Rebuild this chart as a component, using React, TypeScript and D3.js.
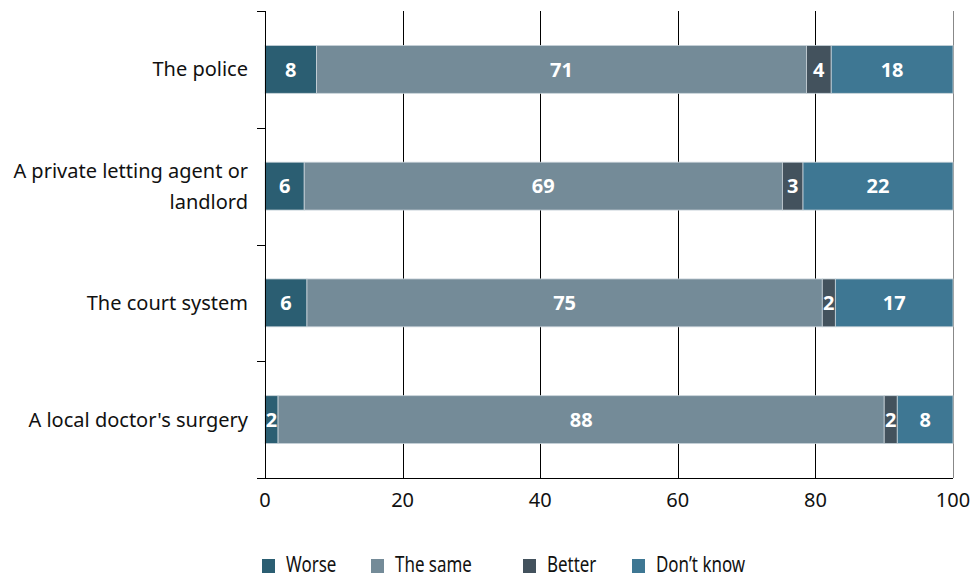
import { FC, useEffect, useRef } from 'react';
import * as d3 from 'd3';

const categories = [
  ['The police'],
  ['A private letting agent or', 'landlord'],
  ['The court system'],
  ["A local doctor's surgery"],
];
const seriesNames = ['Worse', 'The same', 'Better', 'Don\u2019t know'];
const worse = [7.5, 5.7, 6.1, 1.9];
const theSame = [71.2, 69.5, 74.9, 88.1];
const better = [3.6, 3.0, 1.9, 1.9];
const dontKnow = [17.7, 21.8, 17.1, 8.1];
const worseLabels = ['8', '6', '6', '2'];
const sameLabels = ['71', '69', '75', '88'];
const betterLabels = ['4', '3', '2', '2'];
const dontKnowLabels = ['18', '22', '17', '8'];
const xTicks = [0, 20, 40, 60, 80, 100];

const colors = ['#2b5e72', '#748b98', '#43525d', '#3e7793'];
const legendX = [262, 371, 523, 632];
const FONT = "'Noto Sans', 'Open Sans', sans-serif";

const App: FC = () => {
  const ref = useRef<SVGSVGElement>(null);

  useEffect(() => {
    const svg = d3.select(ref.current);
    svg.selectAll('*').remove();

    const margin = { top: 11, left: 265, right: 22, bottom: 101 };
    const width = 975 - margin.left - margin.right;
    const height = 579 - margin.top - margin.bottom;

    const values = [worse, theSame, better, dontKnow];
    const labels = [worseLabels, sameLabels, betterLabels, dontKnowLabels];

    const x = d3.scaleLinear().domain([0, 100]).range([0, width]);
    const y = d3
      .scaleBand<number>()
      .domain(d3.range(categories.length))
      .range([0, height])
      .paddingInner(0.59)
      .paddingOuter(0.295);

    const g = svg
      .append('g')
      .attr('transform', `translate(${margin.left},${margin.top})`);

    //grid lines
    g.selectAll('.grid')
      .data(xTicks.filter((t) => t > 0))
      .enter()
      .append('line')
      .attr('x1', (d) => Math.round(x(d)) + 0.5)
      .attr('x2', (d) => Math.round(x(d)) + 0.5)
      .attr('y1', 0)
      .attr('y2', height)
      .attr('stroke', (d) => (d === 100 ? '#888' : '#000'))
      .attr('stroke-width', 1);

    //stacked bars
    const rows = categories.map((_, i) => {
      let acc = 0;
      return values.map((s, k) => {
        const seg = { i, k, x0: acc, x1: acc + s[i], label: labels[k][i] };
        acc += s[i];
        return seg;
      });
    });
    const segs = rows.flat();

    g.selectAll('.bar')
      .data(segs)
      .enter()
      .append('rect')
      .attr('x', (d) => x(d.x0))
      .attr('width', (d) => x(d.x1) - x(d.x0))
      .attr('y', (d) => y(d.i)!)
      .attr('height', y.bandwidth())
      .attr('fill', (d) => colors[d.k])
      .attr('stroke', '#c9d4da')
      .attr('stroke-width', 0.8);

    g.selectAll('.lbl')
      .data(segs)
      .enter()
      .append('text')
      .attr('x', (d) => (x(d.x0) + x(d.x1)) / 2)
      .attr('y', (d) => y(d.i)! + y.bandwidth() / 2)
      .attr('dy', '0.36em')
      .attr('text-anchor', 'middle')
      .attr('fill', '#fff')
      .attr('font-family', FONT)
      .attr('font-weight', 'bold')
      .attr('font-size', 20)
      .text((d) => d.label);

    //y axis
    g.append('line')
      .attr('x1', 0.5)
      .attr('x2', 0.5)
      .attr('y1', 0)
      .attr('y2', height)
      .attr('stroke', '#000');
    const yTickPos = d3.range(categories.length + 1).map((i) => (i * height) / categories.length);
    g.selectAll('.ytick')
      .data(yTickPos)
      .enter()
      .append('line')
      .attr('x1', -8)
      .attr('x2', 0)
      .attr('y1', (d) => Math.round(d) + 0.5)
      .attr('y2', (d) => Math.round(d) + 0.5)
      .attr('stroke', '#000');

    //category labels
    const cat = g
      .selectAll('.cat')
      .data(categories)
      .enter()
      .append('text')
      .attr('text-anchor', 'end')
      .attr('font-family', FONT)
      .attr('font-size', 20)
      .attr('fill', '#111');
    cat.each(function (lines, i) {
      const cy = y(i)! + y.bandwidth() / 2;
      const lh = 31;
      lines.forEach((l, j) => {
        d3.select(this)
          .append('tspan')
          .attr('x', -17)
          .attr('y', cy + (j - (lines.length - 1) / 2) * lh)
          .attr('dy', '0.35em')
          .text(l);
      });
    });

    //x axis
    g.append('line')
      .attr('x1', -8)
      .attr('x2', width)
      .attr('y1', height + 0.5)
      .attr('y2', height + 0.5)
      .attr('stroke', '#000');
    g.selectAll('.xt')
      .data(xTicks)
      .enter()
      .append('text')
      .attr('x', (d) => x(d))
      .attr('y', height + 29)
      .attr('text-anchor', 'middle')
      .attr('font-family', FONT)
      .attr('font-size', 20)
      .attr('fill', '#111')
      .text((d) => d);

    //legend (condensed text)
    const leg = svg
      .selectAll('.leg')
      .data(seriesNames)
      .enter()
      .append('g')
      .attr('transform', (_, i) => `translate(${legendX[i]},559)`);
    leg
      .append('rect')
      .attr('width', 13)
      .attr('height', 14)
      .attr('fill', (_, i) => colors[i]);
    leg
      .append('text')
      .attr('transform', 'translate(24,13) scale(0.77,1)')
      .attr('font-family', FONT)
      .attr('font-size', 22)
      .attr('fill', '#111')
      .text((d) => d);
  }, []);

  return (
    <div>
      <svg ref={ref} width={975} height={579} style={{ display: 'block', position: 'absolute', left: 0, top: 0 }} />
    </div>
  );
};

export default App;
